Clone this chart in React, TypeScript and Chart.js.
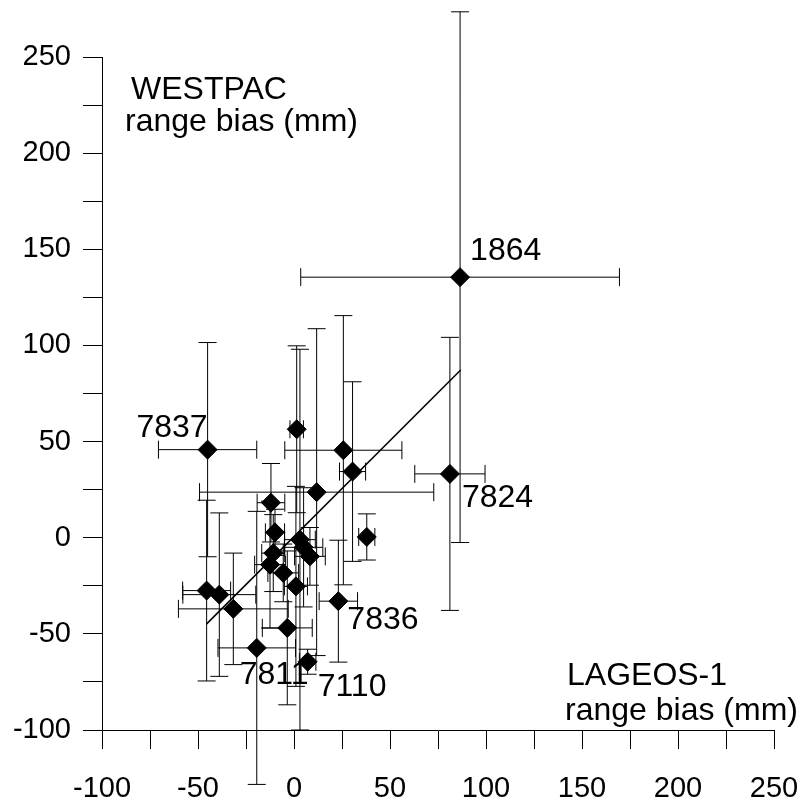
import React, { useEffect, useRef } from 'react';
import { Chart, registerables } from 'chart.js';

Chart.register(...registerables);

// ---- data (mm) ----
const stationLabels = ['1864', '7837', '', '', '', '7824', '', '', '', '', '', '', '', '', '', '', '', '', '', '', '7836', '', '7811', '7110'];
const lageosBias = [86.5, -45, 1.4, 25.7, 30.5, 81.2, 11.8, -12, -9.9, 37.9, 3.1, 5, 8.3, -10.8, -12.5, -5.6, 1, -45.5, -38.9, -31.6, 23.1, -3.5, -19.4, 7.1];
const westpacBias = [135.5, 45.8, 56.4, 45.5, 34.4, 33.2, 23.7, 18.2, 2.8, 0.4, -1, -5, -9.7, -8, -14, -18.3, -25.3, -27.5, -29.6, -37, -33, -46.9, -57.3, -64.5];
const lageosErr = [83, 25.6, 3.5, 30.5, 6.8, 18.3, 61, 7.2, 5, 4.2, 8, 10, 8, 6, 8, 8, 6, 12.5, 19, 28.6, 10, 13, 20.2, 4.3];
const westpacErr = [138, 55.7, 43.4, 70, 46.7, 71, 85, 20.4, 12, 12, 99, 31, 15, 20, 33, 15, 52, 47, 42.5, 29, 31.7, 40, 71, 6.5];
const fitX = [-45.5, 86.8];
const fitY = [-44.8, 87.2];
const axisMin = -100;
const axisMax = 250;
const minorStep = 25;
const labelStep = 50;
const xTitleLines = ['LAGEOS-1', 'range bias (mm)'];
const yTitleLines = ['WESTPAC', 'range bias (mm)'];

// ---- styles ----
const FONT = '"Liberation Sans", Arial, Helvetica, sans-serif';
const TICK_FONT_SIZE = 29;
const TEXT_FONT_SIZE = 32;
const CAP = 9;
const labelStyle: Record<string, { dx: number; dy: number; align: CanvasTextAlign }> = {
  '1864': { dx: 10, dy: -17, align: 'left' },
  '7837': { dx: 0, dy: -13, align: 'right' },
  '7824': { dx: 12, dy: 33, align: 'left' },
  '7836': { dx: 9, dy: 28, align: 'left' },
  '7811': { dx: -17, dy: 36, align: 'left' },
  '7110': { dx: 10, dy: 34, align: 'left' },
};

const errorBarPlugin = {
  id: 'errorBars',
  beforeDatasetsDraw(chart: any) {
    const { ctx } = chart;
    const xs = chart.scales.x;
    const ys = chart.scales.y;
    ctx.save();
    ctx.strokeStyle = '#000';
    ctx.lineWidth = 1;
    for (let i = 0; i < lageosBias.length; i++) {
      const px = xs.getPixelForValue(lageosBias[i]);
      const py = ys.getPixelForValue(westpacBias[i]);
      const x1 = xs.getPixelForValue(lageosBias[i] - lageosErr[i]);
      const x2 = xs.getPixelForValue(lageosBias[i] + lageosErr[i]);
      const y1 = ys.getPixelForValue(westpacBias[i] + westpacErr[i]);
      const y2 = ys.getPixelForValue(westpacBias[i] - westpacErr[i]);
      ctx.beginPath();
      ctx.moveTo(x1, py);
      ctx.lineTo(x2, py);
      ctx.moveTo(x1, py - CAP);
      ctx.lineTo(x1, py + CAP);
      ctx.moveTo(x2, py - CAP);
      ctx.lineTo(x2, py + CAP);
      ctx.moveTo(px, y1);
      ctx.lineTo(px, y2);
      ctx.moveTo(px - CAP, y1);
      ctx.lineTo(px + CAP, y1);
      ctx.moveTo(px - CAP, y2);
      ctx.lineTo(px + CAP, y2);
      ctx.stroke();
    }
    ctx.restore();
  },
};

const textPlugin = {
  id: 'texts',
  afterDatasetsDraw(chart: any) {
    const { ctx, chartArea } = chart;
    const xs = chart.scales.x;
    const ys = chart.scales.y;
    ctx.save();
    ctx.fillStyle = '#000';
    ctx.font = `${TEXT_FONT_SIZE}px ${FONT}`;
    ctx.textBaseline = 'alphabetic';
    for (let i = 0; i < stationLabels.length; i++) {
      const name = stationLabels[i];
      if (!name) continue;
      const st = labelStyle[name] || { dx: 10, dy: -10, align: 'left' };
      ctx.textAlign = st.align;
      ctx.fillText(name, xs.getPixelForValue(lageosBias[i]) + st.dx, ys.getPixelForValue(westpacBias[i]) + st.dy);
    }
    ctx.textAlign = 'left';
    ctx.fillText(yTitleLines[0], chartArea.left + 29, chartArea.top + 42);
    ctx.fillText(yTitleLines[1], chartArea.left + 23, chartArea.top + 74);
    ctx.fillText(xTitleLines[0], chartArea.right - 207, chartArea.bottom - 45);
    ctx.fillText(xTitleLines[1], chartArea.right - 209, chartArea.bottom - 10);
    ctx.restore();
  },
};

export default function App() {
  const canvasRef = useRef<HTMLCanvasElement | null>(null);

  useEffect(() => {
    document.body.style.margin = '0';
    const canvas = canvasRef.current;
    if (!canvas) return;
    const tickCb = (v: any) => (Number(v) % labelStep === 0 ? String(v) : '');
    const axisCommon = (padding: number) => ({
      type: 'linear' as const,
      min: axisMin,
      max: axisMax,
      ticks: {
        stepSize: minorStep,
        autoSkip: false,
        maxRotation: 0,
        minRotation: 0,
        color: '#000',
        padding,
        font: { family: FONT, size: TICK_FONT_SIZE },
        callback: tickCb,
      },
      grid: {
        drawOnChartArea: false,
        drawTicks: true,
        tickLength: 19,
        color: '#000',
        lineWidth: 1,
      },
      border: { display: true, color: '#000', width: 1 },
    });
    const chart = new Chart(canvas, {
      type: 'scatter',
      data: {
        datasets: [
          {
            label: 'stations',
            data: lageosBias.map((x, i) => ({ x, y: westpacBias[i] })),
            pointStyle: 'rectRot',
            pointRadius: 9.5,
            pointHoverRadius: 9.5,
            backgroundColor: '#000',
            borderColor: '#000',
            borderWidth: 1,
            clip: false as any,
          },
          {
            label: 'fit',
            type: 'line' as any,
            data: fitX.map((x, i) => ({ x, y: fitY[i] })),
            showLine: true,
            borderColor: '#000',
            borderWidth: 1.5,
            pointRadius: 0,
            fill: false,
          } as any,
        ],
      },
      options: {
        animation: false,
        responsive: false,
        maintainAspectRatio: false,
        layout: { padding: { top: 57, right: 31, left: 0, bottom: 0 } },
        plugins: { legend: { display: false }, tooltip: { enabled: false } },
        scales: {
          x: {
            ...axisCommon(23),
            position: 'bottom',
            afterFit: (s: any) => {
              s.height = 74;
              s.paddingRight = 0;
              s.paddingLeft = 0;
            },
          } as any,
          y: {
            ...axisCommon(12),
            position: 'left',
            afterFit: (s: any) => {
              s.width = 102;
              s.paddingTop = 0;
              s.paddingBottom = 0;
            },
          } as any,
        },
      },
      plugins: [errorBarPlugin, textPlugin],
    });
    return () => chart.destroy();
  }, []);

  return (
    <div style={{ width: 805, height: 804, position: 'relative' }}>
      <canvas ref={canvasRef} width={805} height={804} style={{ display: 'block' }} />
    </div>
  );
}
